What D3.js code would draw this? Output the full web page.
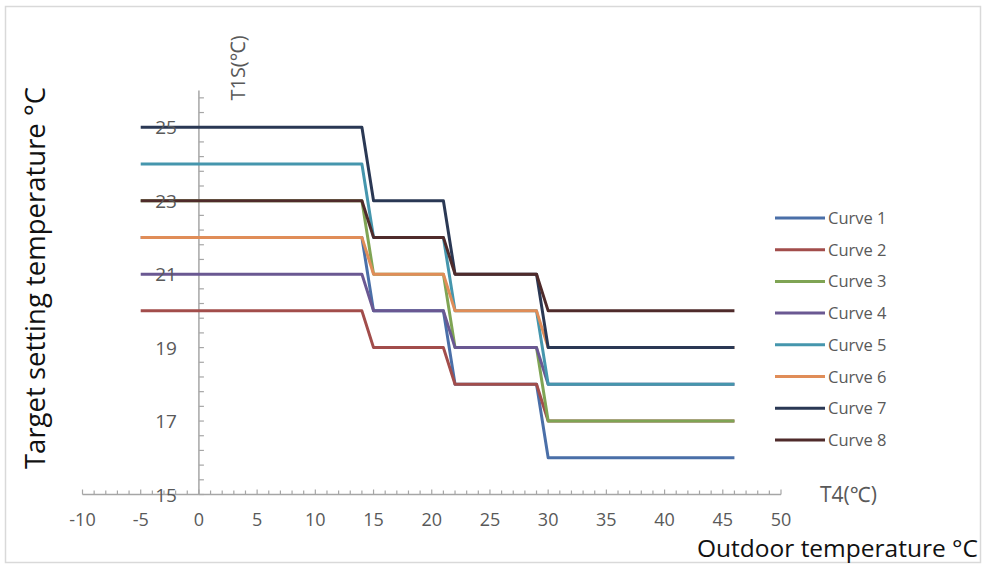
<!DOCTYPE html>
<html><head><meta charset="utf-8">
<script src="https://cdn.jsdelivr.net/npm/d3@7"></script>
<style>body{margin:0;background:#fff}svg{display:block;font-family:"Open Sans","Noto Sans",sans-serif}</style>
</head><body><svg id="c" width="983" height="564"></svg>
<script>
const seriesNames = ["Curve 1","Curve 2","Curve 3","Curve 4","Curve 5","Curve 6","Curve 7","Curve 8"];
const t4Points = [-5, 14, 15, 21, 22, 29, 30, 46];
const curve1 = [22, 22, 20, 20, 18, 18, 16, 16];
const curve2 = [20, 20, 19, 19, 18, 18, 17, 17];
const curve3 = [23, 23, 21, 21, 19, 19, 17, 17];
const curve4 = [21, 21, 20, 20, 19, 19, 18, 18];
const curve5 = [24, 24, 22, 22, 20, 20, 18, 18];
const curve6 = [22, 22, 21, 21, 20, 20, 19, 19];
const curve7 = [25, 25, 23, 23, 21, 21, 19, 19];
const curve8 = [23, 23, 22, 22, 21, 21, 20, 20];
const curves = [curve1, curve2, curve3, curve4, curve5, curve6, curve7, curve8];
const colors = ["#4a6fa8","#a24d4b","#7fa454","#6a5892","#4596ad","#e08d58","#2a3854","#4f2b2b"];
const xTicks = [-10,-5,0,5,10,15,20,25,30,35,40,45,50];
const yTicks = [15,17,19,21,23,25];

const svg = d3.select("#c");
svg.append("rect").attr("x",5.5).attr("y",6.5).attr("width",975).attr("height",556)
  .attr("fill","none").attr("stroke","#d9d9d9").attr("stroke-width",1.5);

const x = d3.scaleLinear().domain([-10,50]).range([82.5,781]);
const y = d3.scaleLinear().domain([15,26]).range([494.5,90.5]);
const x0 = x(0), y0 = y(15);
const axisColor = "#a6a6a6", labelColor = "#595959";

svg.append("line").attr("x1",x(-10)).attr("x2",x(50)).attr("y1",y0).attr("y2",y0)
  .attr("stroke",axisColor).attr("stroke-width",1.5);
const xMinor = d3.range(-10,50.01,1);
svg.selectAll(".xt").data(xMinor).join("line")
  .attr("x1",d=>x(d)).attr("x2",d=>x(d)).attr("y1",y0).attr("y2",d=>y0-(d%5===0?5:4))
  .attr("stroke",axisColor).attr("stroke-width",1.2);
svg.selectAll(".xl").data(xTicks).join("text")
  .attr("x",d=>x(d)).attr("y",526).attr("text-anchor","middle")
  .attr("font-size",18).attr("fill",labelColor).text(d=>d);

svg.append("line").attr("x1",x0).attr("x2",x0).attr("y1",y(15)).attr("y2",y(26))
  .attr("stroke",axisColor).attr("stroke-width",1.5);
const yMinor = d3.range(15,26.01,0.4);
svg.selectAll(".yt").data(yMinor).join("line")
  .attr("x1",x0).attr("x2",x0+5).attr("y1",d=>y(d)).attr("y2",d=>y(d))
  .attr("stroke",axisColor).attr("stroke-width",1.2);

const line = d3.line().x(d=>x(d[0])).y(d=>y(d[1]));
curves.forEach((c,i)=>{
  svg.append("path").datum(t4Points.map((t,j)=>[t,c[j]]))
    .attr("d",line).attr("fill","none").attr("stroke",colors[i])
    .attr("stroke-width",3).attr("stroke-linejoin","round");
});

svg.selectAll(".yl").data(yTicks).join("text")
  .attr("x",166).attr("y",d=>y(d)+7).attr("text-anchor","middle")
  .attr("font-size",19).attr("fill",labelColor).text(d=>d);

svg.append("text").attr("transform","translate(245,68) rotate(-90)").attr("text-anchor","middle")
  .attr("font-size",20).attr("fill",labelColor).text("T1S(℃)");
svg.append("text").attr("x",820).attr("y",502).attr("font-size",21).attr("fill",labelColor).text("T4(℃)");
svg.append("text").attr("x",978).attr("y",556.5).attr("text-anchor","end")
  .attr("font-size",24.5).attr("fill","#111").text("Outdoor temperature °C");
svg.append("text").attr("transform","translate(45,278) rotate(-90)").attr("text-anchor","middle")
  .attr("font-size",27.5).attr("fill","#111").text("Target setting temperature °C");

const lg = svg.append("g");
seriesNames.forEach((n,i)=>{
  const yy = 218 + i*31.7;
  lg.append("line").attr("x1",775).attr("x2",825).attr("y1",yy).attr("y2",yy)
    .attr("stroke",colors[i]).attr("stroke-width",3);
  lg.append("text").attr("x",828).attr("y",yy+6).attr("font-size",16.5).attr("fill",labelColor).text(n);
});
</script></body></html>
